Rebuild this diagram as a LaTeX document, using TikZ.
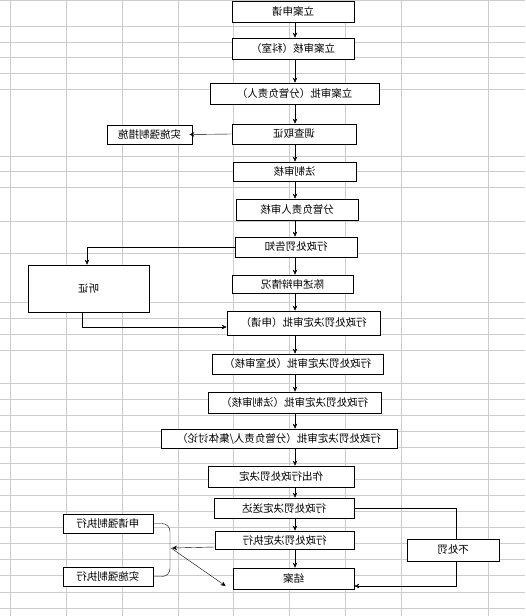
\documentclass[tikz,border=0pt]{standalone}
\usepackage{fontspec}
\usepackage{graphicx}
\usetikzlibrary{arrows.meta}
\newfontfamily\cjk{Noto Sans CJK SC}
\newcommand{\flip}[1]{\reflectbox{#1}}

\begin{document}
\begin{tikzpicture}[x=1pt, y=-1pt, >={Stealth[length=5pt,width=4.5pt]},
    every node/.style={rectangle, draw, fill=white, line width=0.7pt, inner sep=0pt, font=\cjk\fontsize{10.5}{12}\selectfont},
    gridline/.style={gray!40, line width=0.6pt}]
    \useasboundingbox (0,0) rectangle (525,616);

    % Grid
    \foreach \x in {10,66,122,178,233,289,345,401,488}
        \draw[gridline] (\x,0) -- (\x,616);
    \foreach \y in {0.5,26,42,57,73,89,156,171,187,221,253,302,318,334,350,383,399,415,431,447,463,479,495,511,527,543,559,575,592,608}
        \draw[gridline] (0,\y) -- (525,\y);

    % Nodes
    \node (req) [minimum width=122pt, minimum height=21pt] at (293,11.5) {\flip{立案申请}};
    \node (keshi) [minimum width=122pt, minimum height=21pt] at (293,48.5) {\flip{立案审核（科室）}};
    \node (fenguan) [minimum width=169pt, minimum height=21pt] at (294.5,93.5) {\flip{立案审批（分管负责人）}};
    \node (diaocha) [minimum width=124pt, minimum height=20pt] at (294,134) {\flip{调查取证}};
    \node (cuoshi) [minimum width=85pt, minimum height=19pt] at (149.5,134.5) {\flip{实施强制措施}};
    \node (fazhi) [minimum width=123pt, minimum height=19pt] at (294.5,171.5) {\flip{法制审核}};
    \node (fzr) [minimum width=122pt, minimum height=21pt] at (297,209.5) {\flip{分管负责人审核}};
    \node (gaozhi) [minimum width=122pt, minimum height=20pt] at (296,247) {\flip{行政处罚告知}};
    \node (tingzheng) [minimum width=121pt, minimum height=47pt] at (88.5,288.5) {\flip{听证}};
    \node (chenshu) [minimum width=121pt, minimum height=18pt] at (292.5,284) {\flip{陈述申辩情况}};
    \node (spsq) [minimum width=153pt, minimum height=24pt] at (303.5,323) {\flip{行政处罚决定审批（申请）}};
    \node (spcs) [minimum width=171pt, minimum height=20pt] at (297.5,364) {\flip{行政处罚决定审批（处室审核）}};
    \node (spfz) [minimum width=173pt, minimum height=21pt] at (294.5,402.5) {\flip{行政处罚决定审批（法制审核）}};
    \node (spjt) [minimum width=236pt, minimum height=19pt] at (279,438.5) {\flip{行政处罚决定审批（分管负责人/集体讨论）}};
    \node (zuochu) [minimum width=146pt, minimum height=21pt] at (281,476.5) {\flip{作出行政处罚决定}};
    \node (songda) [minimum width=140pt, minimum height=20pt] at (284,508) {\flip{行政处罚决定送达}};
    \node (zhixing) [minimum width=139pt, minimum height=18pt] at (284.5,540) {\flip{行政处罚决定执行}};
    \node (jiean) [minimum width=121pt, minimum height=21pt] at (293.5,578.5) {\flip{结案}};
    \node (sqqz) [minimum width=90pt, minimum height=19pt] at (108,523.5) {\flip{申请强制执行}};
    \node (ssqz) [minimum width=90pt, minimum height=19pt] at (108,576.5) {\flip{实施强制执行}};
    \coordinate (axis) at (295,0);
    \coordinate (brace) at (170,548);

    % Main flow
    \foreach \a/\b in {req/keshi, keshi/fenguan, fenguan/diaocha, diaocha/fazhi, fazhi/fzr, fzr/gaozhi, gaozhi/chenshu, chenshu/spsq, spsq/spcs, spcs/spfz, spfz/spjt, spjt/zuochu, zuochu/songda, songda/zhixing, zhixing/jiean}
        \draw[->] (axis |- \a.south) -- (axis |- \b.north);

    % Side branches
    \draw[->] (diaocha.west) -- ([xshift=-3pt]cuoshi.east);
    \draw[->] (gaozhi.west) -| ([xshift=-1.5pt]tingzheng.north);
    \draw[->] ([xshift=-6.5pt]tingzheng.south) |- ([yshift=-4pt]spsq.west);
    \draw[rounded corners=8pt] (sqqz.east) -| (brace) |- (ssqz.east);
    \draw[->] ([yshift=-7pt]zhixing.west) -- ([xshift=2pt]brace);
    \draw[->] ([xshift=1pt]brace) -- ([xshift=-7pt,yshift=-7.5pt]jiean.west);
    \draw[->] (songda.east) -| (456,586) -- ([yshift=-7.5pt]jiean.east);
    \node (buchufa) [minimum width=92pt, minimum height=22pt] at (453,550) {\flip{不处罚}};
\end{tikzpicture}
\end{document}
